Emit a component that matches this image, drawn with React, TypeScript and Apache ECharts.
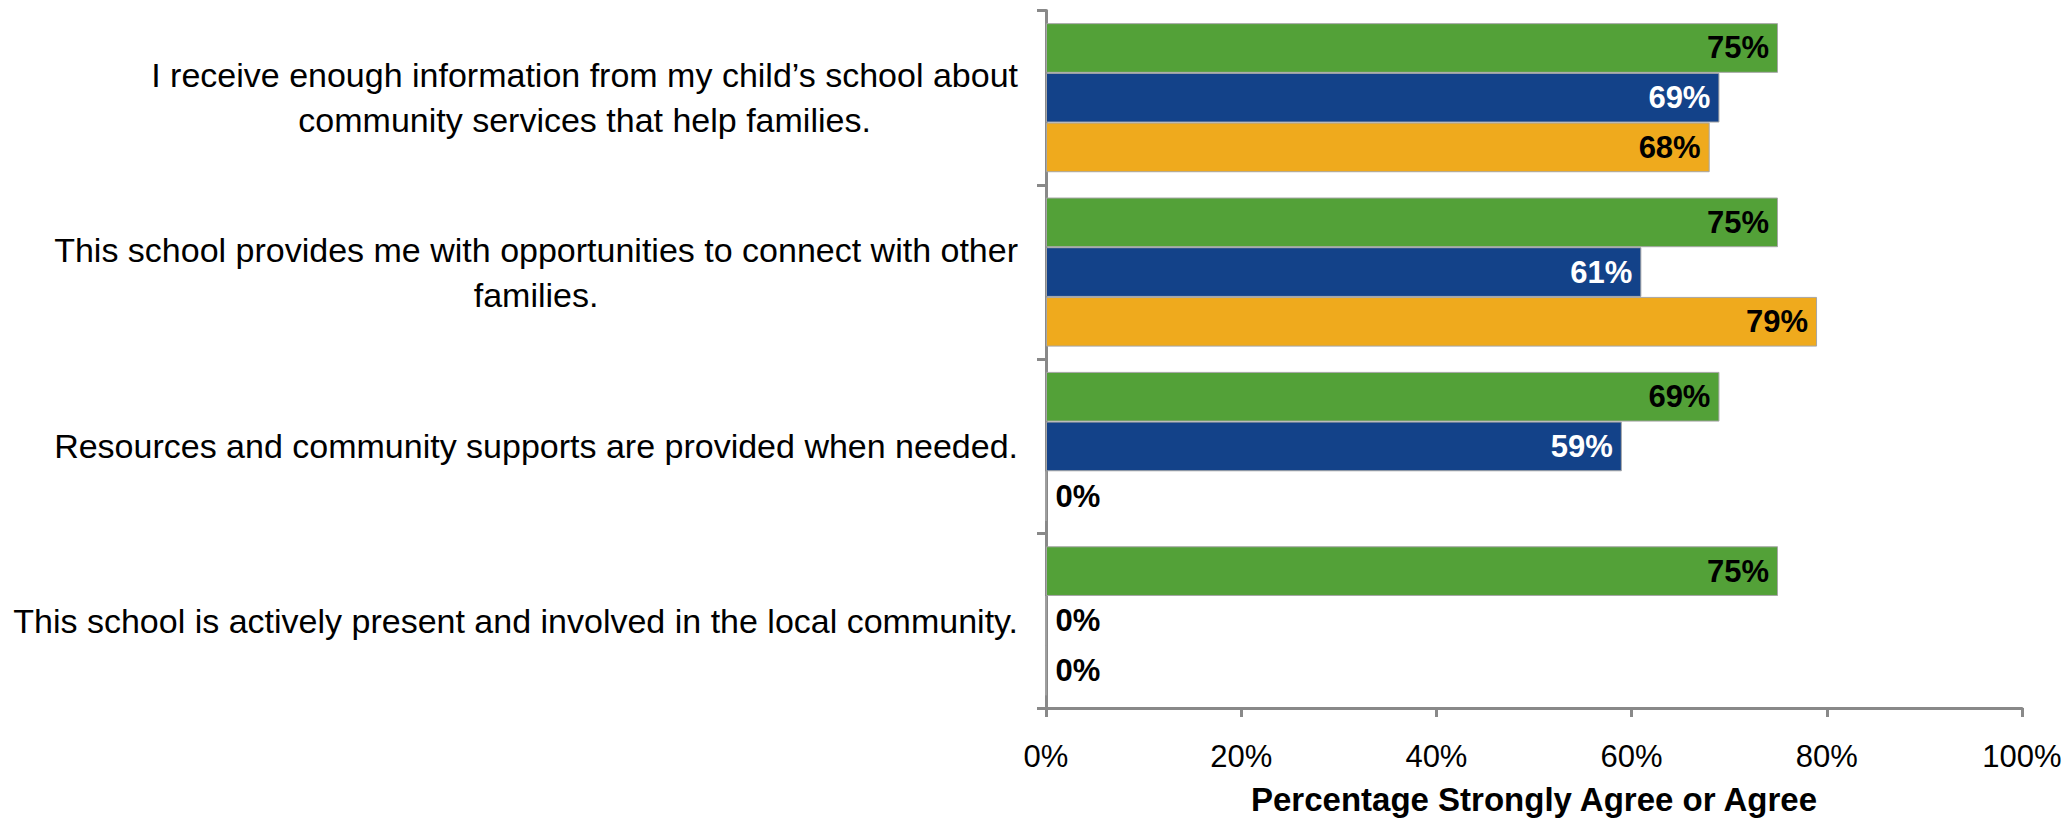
import React, { useEffect, useRef } from "react";
import * as echarts from "echarts";

const categories: string[] = [
  "I receive enough information from my child\u2019s school about\ncommunity services that help families.",
  "This school provides me with opportunities to connect with other\nfamilies.",
  "Resources and community supports are provided when needed.",
  "This school is actively present and involved in the local community.",
];

const seriesNames: string[] = ["School", "District", "State"];
const greenValues: number[] = [75, 75, 69, 75];
const blueValues: number[] = [69, 61, 59, 0];
const orangeValues: number[] = [68, 79, 0, 0];

const xTicks: number[] = [0, 20, 40, 60, 80, 100];
const axisTitle = "Percentage Strongly Agree or Agree";

const FONT = "'Liberation Sans', Arial, sans-serif";

function makeSeries(name: string, values: number[], color: string, labelColor: string) {
  return {
    name,
    type: "bar",
    barGap: "0%",
    barCategoryGap: "14.5%",
    itemStyle: { color, borderColor: "#a6a6a6", borderWidth: 1 },
    label: {
      show: true,
      position: "insideRight",
      distance: 9,
      formatter: "{c}%",
      color: labelColor,
      fontFamily: FONT,
      fontWeight: "bold",
      fontSize: 31,
    },
    data: values.map((v) =>
      v === 0
        ? { value: v, label: { position: "right", distance: 9, color: "#000" } }
        : { value: v }
    ),
  };
}

export default function App() {
  const ref = useRef<HTMLDivElement>(null);
  useEffect(() => {
    if (!ref.current) return;
    const chart = echarts.init(ref.current, undefined, { renderer: "svg" });
    chart.setOption({
      animation: false,
      backgroundColor: "#ffffff",
      grid: { left: 1046, right: 44, top: 10.5, bottom: 112, containLabel: false },
      xAxis: {
        type: "value",
        min: 0,
        max: 100,
        interval: 20,
        name: axisTitle,
        nameLocation: "middle",
        nameGap: 75,
        nameTextStyle: { fontFamily: FONT, fontWeight: "bold", fontSize: 33, color: "#000" },
        axisLine: { show: true, lineStyle: { color: "#898989", width: 3 } },
        axisTick: { show: true, length: 9, lineStyle: { color: "#898989", width: 3 } },
        splitLine: { show: false },
        axisLabel: {
          margin: 33,
          fontFamily: FONT,
          fontSize: 31,
          color: "#000",
          formatter: (v: number) => (xTicks.includes(v) ? v + "%" : ""),
        },
      },
      yAxis: {
        type: "category",
        inverse: true,
        data: categories,
        axisLine: { show: true, lineStyle: { color: "#898989", width: 3 } },
        axisTick: { show: true, length: 9, lineStyle: { color: "#898989", width: 3 } },
        splitLine: { show: false },
        axisLabel: {
          margin: 28,
          align: "right",
          fontFamily: FONT,
          fontSize: 34,
          color: "#000",
          lineHeight: 45,
          formatter: (v: string) =>
            v
              .split("\n")
              .map((l) => "{c|" + l + "}")
              .join("\n"),
          rich: {
            c: { align: "center", fontFamily: FONT, fontSize: 34, color: "#000", lineHeight: 45 },
          },
        },
      },
      series: [
        makeSeries(seriesNames[0], greenValues, "#53a138", "#000"),
        makeSeries(seriesNames[1], blueValues, "#134289", "#fff"),
        makeSeries(seriesNames[2], orangeValues, "#efaa1d", "#000"),
      ],
    });
    return () => chart.dispose();
  }, []);
  return (
    <div
      ref={ref}
      style={{ position: "fixed", left: 0, top: 0, width: 2066, height: 821, background: "#fff" }}
    />
  );
}
